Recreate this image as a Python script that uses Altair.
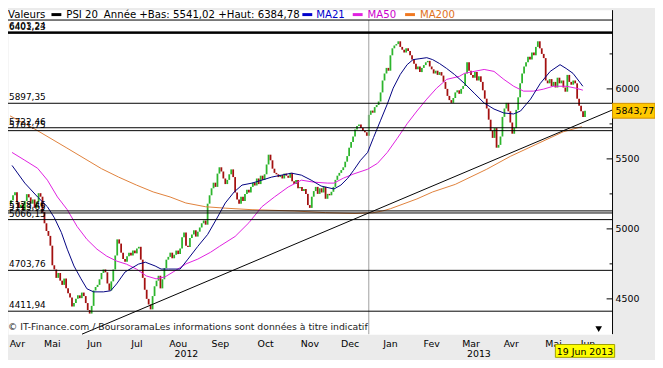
import altair as alt
import pandas as pd

# ---------------- data ----------------
first_index = -10          # trading-day index of first candle (0 = first day of May 2012)
first_open = 5180
closes = [
    5205, 5240, 5262, 5190, 5150, 5172, 5135, 5200, 5248, 5225,
    5180, 5210, 5150, 5195, 5255, 5230, 5120, 5040, 4985, 4950,
    4880, 4740, 4710, 4650, 4685, 4630, 4600, 4645, 4575, 4540,
    4510, 4445, 4470, 4500, 4525, 4505, 4545, 4520, 4470, 4420,
    4395, 4450, 4560, 4585, 4600, 4640, 4685, 4710, 4690, 4610,
    4560, 4625, 4710, 4810, 4925, 4895, 4830, 4785, 4765, 4805,
    4830, 4810, 4845, 4825, 4860, 4872, 4780, 4650, 4565, 4500,
    4460, 4425, 4520, 4590, 4630, 4665, 4575, 4640, 4720, 4780,
    4800, 4830, 4790, 4815, 4845, 4820, 4860, 4940, 4975, 4880,
    4870, 4935, 4960, 4990, 4945, 4980, 5010, 5040, 5060, 5030,
    5180, 5240, 5290, 5330, 5300, 5395, 5440, 5410, 5360, 5320,
    5350, 5390, 5425, 5370, 5260, 5210, 5180, 5230, 5200, 5250,
    5280, 5260, 5300, 5330, 5310, 5360, 5320, 5380, 5350, 5390,
    5460, 5530, 5490, 5430, 5400, 5390, 5370, 5385, 5360, 5395,
    5380, 5365, 5400, 5340, 5320, 5350, 5290, 5300, 5270, 5285,
    5250, 5170, 5150, 5230, 5270, 5300, 5250, 5290, 5260, 5300,
    5215, 5250, 5240, 5265, 5300, 5350, 5380, 5400, 5420, 5440,
    5480, 5520, 5580, 5620, 5660, 5710, 5735, 5745, 5720, 5700,
    5690, 5665, 5815, 5845, 5830, 5870, 5885, 5910, 5975, 6060,
    6110, 6150, 6130, 6240, 6290, 6310, 6320, 6340, 6300, 6280,
    6260, 6290, 6270, 6240, 6210, 6180, 6140, 6160, 6120, 6150,
    6170, 6190, 6200, 6160, 6140, 6110, 6130, 6100, 6120, 6095,
    6050, 6000, 5950, 5920, 5900, 5935, 5975, 5990, 5965, 6000,
    6020, 6110, 6190, 6130, 6100, 6080, 6120, 6060, 6090, 6050,
    5990, 5930, 5860, 5780, 5700, 5650, 5720, 5580, 5600, 5660,
    5800, 5860, 5900, 5840, 5760, 5680, 5720, 5850, 5940, 6040,
    6110, 6160, 6190, 6230, 6210, 6260, 6240, 6300, 6340, 6290,
    6250, 6220, 6060, 6040, 6070, 6020, 6050, 6010, 6080, 6040,
    6060, 6010, 5980, 6100, 6050, 6030, 6060, 6040, 5930, 5880, 5840, 5800, 5843.77,
]

ma21 = [[-9.5, 5453], [-3, 5327], [3.5, 5228], [8.5, 5158], [12, 5080], [15.6, 4974],
        [18.6, 4855], [22, 4735], [25.6, 4643], [28.6, 4572], [32, 4550], [37, 4550],
        [40.7, 4558], [43.7, 4607], [48, 4692], [54.8, 4748], [58.3, 4762], [63.3, 4735],
        [66.3, 4713], [70, 4713], [76, 4713], [80, 4784], [85, 4875], [90, 4960],
        [94.5, 5070], [99, 5185], [103.5, 5264], [107.5, 5313], [112.6, 5327], [117.6, 5348],
        [122.6, 5370], [127.6, 5384], [132.7, 5398], [137.7, 5384], [142.7, 5348], [147.7, 5306],
        [154.3, 5285], [157.8, 5313], [161.3, 5362], [164.3, 5419], [167.8, 5490], [171.4, 5546],
        [174.4, 5652], [177.9, 5772], [181.4, 5891], [184.4, 6005], [188, 6103], [191.5, 6173],
        [194.5, 6209], [198, 6216], [201.5, 6223], [204.5, 6209], [208, 6181], [211.6, 6146],
        [215.6, 6103], [220.6, 6040], [225.6, 5970], [230.7, 5899], [235.7, 5856], [240.7, 5828],
        [245.7, 5821], [249.2, 5842], [254.3, 5927], [259.3, 6040], [264.3, 6125], [269.3, 6173],
        [272.4, 6146], [275.9, 6111], [280.9, 6019]]

ma50 = [[-9.5, 5546], [-3, 5490], [3.5, 5433], [8.5, 5348], [13.6, 5228], [18.6, 5137],
        [23.6, 5017], [28.6, 4925], [33.7, 4855], [38.7, 4805], [43.7, 4770], [48.7, 4748],
        [53.8, 4713], [58.8, 4664], [63.8, 4643], [68.3, 4657], [73.4, 4700], [79, 4750],
        [85, 4784], [91.5, 4833], [96, 4875], [104, 4946], [111, 5044], [117.6, 5158],
        [124, 5228], [131, 5299], [137.7, 5348], [144, 5334], [151, 5327], [154.3, 5327],
        [159, 5362], [164, 5391], [171.4, 5426], [176.4, 5468], [181.4, 5546], [186.4, 5645],
        [191.5, 5751], [196.5, 5842], [201.5, 5927], [206.5, 6005], [211.6, 6068], [218, 6089],
        [220.6, 6111], [225.6, 6125], [230.7, 6139], [235.7, 6125], [240.7, 6068], [245.7, 6019],
        [250.7, 5984], [255.8, 5984], [260.8, 5998], [265.8, 6019], [272.4, 6019], [277.4, 6005],
        [280.9, 5991]]

ma200 = [[-10.5, 5807], [1, 5722], [18, 5581], [36, 5430], [44.7, 5370], [53.8, 5313],
         [62.3, 5264], [70.9, 5228], [78.9, 5185], [89, 5158], [99, 5148], [112.6, 5137],
         [134, 5128], [150, 5116], [165, 5110], [174, 5115], [179, 5128], [183, 5144],
         [196.5, 5214], [204.5, 5264], [216, 5318], [232, 5426], [244, 5518], [257, 5603],
         [271, 5694], [280.4, 5730]]

trend = [[26.1, 4248], [296, 5850]]

levels = [6403.24, 6401.23, 5897.35, 5722.46, 5701.75, 5128.46, 5113.65, 5066.15, 4703.76, 4411.94]

month_names = ["Avr", "Mai", "Jun", "Jul", "Aou", "Sep", "Oct", "Nov", "Dec",
               "Jan", "Fev", "Mar", "Avr", "Mai", "Jun"]
month_bounds = [-13.6, 0, 22, 43, 65, 85, 108, 131, 153, 172, 194, 214, 234, 255, 277, 290]
year_names = ["2012", "2013"]
year_bounds = [-13.6, 172, 284]

y_ticks_major = [4500, 5000, 5500, 6000]
y_ticks_minor = [4750, 5250, 5750, 6250]
last_date = "19 Jun 2013"

# ---------------- frames ----------------
idx = list(range(first_index, first_index + len(closes)))
opens = [first_open] + closes[:-1]
candles = pd.DataFrame({"i": idx, "o": opens, "c": closes})
candles["dir"] = ["up" if c >= o else "down" for o, c in zip(opens, closes)]

def pairs(p):
    return pd.DataFrame({"i": [a for a, b in p], "v": [b for a, b in p]})

lev_df = pd.DataFrame({"v": levels,
                       "lab": [f"{v:.2f}".replace(".", ",") for v in levels],
                       "w": [2 if v > 6400 else 1 for v in levels]})
months_df = pd.DataFrame({"name": month_names,
                          "mid": [(month_bounds[k] + month_bounds[k + 1]) / 2 for k in range(len(month_names))]})
years_df = pd.DataFrame({"name": year_names,
                         "mid": [(year_bounds[k] + year_bounds[k + 1]) / 2 for k in range(len(year_names))]})
last_df = pd.DataFrame({"i": [idx[-1]], "c": [closes[-1]],
                        "lab": [f"{closes[-1]:.2f}".replace(".", ",")], "d": [last_date]})
ylab_df = pd.DataFrame({"t": y_ticks_major, "lab": [str(t) for t in y_ticks_major]})

W, H = 612, 318
XS = alt.Scale(domain=[-11.56, 296], nice=False, zero=False, padding=0)
YS = alt.Scale(domain=[4248, 6492], nice=False, zero=False, padding=0)
FONT = "DejaVu Sans"
one = pd.DataFrame({"k": [0]})

GREEN, RED = "#2DB52D", "#A31010"
C21, C50, C200 = "#000080", "#E020E0", "#E0803A"

x_axis = alt.Axis(values=month_bounds[1:-1], labels=False, ticks=True, tickSize=3,
                  tickColor="black", domainColor="black", grid=True, gridColor="#E6E6E6",
                  title=None)
y_axis = alt.Axis(orient="right", values=[4500, 4750, 5000, 5250, 5500, 5750, 6000, 6250],
                  labels=False, ticks=False,
                  domainColor="black", grid=True, gridColor="#E6E6E6", title=None)

# ---------------- layers ----------------
layers = []

# candles (carry the axes)
layers.append(alt.Chart(candles).mark_bar(size=1.8).encode(
    x=alt.X("i:Q", scale=XS, axis=x_axis),
    y=alt.Y("o:Q", scale=YS, axis=y_axis),
    y2="c:Q",
    color=alt.Color("dir:N", scale=alt.Scale(domain=["up", "down"], range=[GREEN, RED]), legend=None),
))

# year separator
layers.append(alt.Chart(pd.DataFrame({"i": [year_bounds[1]]})).mark_rule(color="#A0A0A0").encode(
    x=alt.X("i:Q", scale=XS, axis=None)))

# moving averages
for data, col in [(ma200, C200), (ma50, C50), (ma21, C21)]:
    layers.append(alt.Chart(pairs(data)).mark_line(color=col, strokeWidth=1).encode(
        x=alt.X("i:Q", scale=XS, axis=None), y=alt.Y("v:Q", scale=YS, axis=None)))

# trend line
layers.append(alt.Chart(pairs(trend)).mark_line(color="black", strokeWidth=1).encode(
    x=alt.X("i:Q", scale=XS, axis=None), y=alt.Y("v:Q", scale=YS, axis=None)))

# horizontal levels
layers.append(alt.Chart(lev_df).mark_rule(color="black").encode(
    y=alt.Y("v:Q", scale=YS, axis=None), strokeWidth=alt.StrokeWidth("w:Q", scale=None)))
layers.append(alt.Chart(lev_df).mark_text(align="left", baseline="alphabetic", dy=-3,
                                          font=FONT, fontSize=9, color="black").encode(
    x=alt.value(1), y=alt.Y("v:Q", scale=YS, axis=None), text="lab:N"))

# right-axis tick marks (inward) and labels
layers.append(alt.Chart(pd.DataFrame({"t": y_ticks_major})).mark_rule(color="black").encode(
    y=alt.Y("t:Q", scale=YS, axis=None), x=alt.value(606), x2=alt.value(612)))
layers.append(alt.Chart(pd.DataFrame({"t": y_ticks_minor})).mark_rule(color="black").encode(
    y=alt.Y("t:Q", scale=YS, axis=None), x=alt.value(609), x2=alt.value(612)))
layers.append(alt.Chart(ylab_df).mark_text(align="left", baseline="middle", font=FONT,
                                           fontSize=9.5, color="black").encode(
    x=alt.value(615), y=alt.Y("t:Q", scale=YS, axis=None), text="lab:N"))

# frame: top strip, top line, right line
layers.append(alt.Chart(one).mark_rect(color="white").encode(
    x=alt.value(0), x2=alt.value(612), y=alt.value(-10), y2=alt.value(0)))
layers.append(alt.Chart(one).mark_rule(color="black").encode(
    x=alt.value(0), x2=alt.value(612), y=alt.value(0)))
layers.append(alt.Chart(one).mark_rule(color="black").encode(
    x=alt.value(612), y=alt.value(-10), y2=alt.value(318)))

# month and year labels
layers.append(alt.Chart(months_df).mark_text(font=FONT, fontSize=9.5, color="black",
                                             baseline="alphabetic").encode(
    x=alt.X("mid:Q", scale=XS, axis=None), y=alt.value(331.5), text="name:N"))
layers.append(alt.Chart(years_df).mark_text(font=FONT, fontSize=9.5, color="black",
                                            baseline="alphabetic").encode(
    x=alt.X("mid:Q", scale=XS, axis=None), y=alt.value(341.5), text="name:N"))

# copyright
layers.append(alt.Chart(one).mark_text(
    text="© IT-Finance.com / BoursoramaLes informations sont données à titre indicatif",
    align="left", baseline="alphabetic", font=FONT, fontSize=9.4, color="#222222").encode(
    x=alt.value(0), y=alt.value(314)))

# small triangle
layers.append(alt.Chart(one).mark_point(shape="triangle-down", filled=True, color="black",
                                        size=45, opacity=1).encode(
    x=alt.value(598), y=alt.value(313)))

# last value box
layers.append(alt.Chart(last_df).mark_rect(fill="#FFC800", stroke="#D09000", strokeWidth=1,
                                           yOffset=-7.5, y2Offset=7.5).encode(
    x=alt.value(612), x2=alt.value(655),
    y=alt.Y("c:Q", scale=YS, axis=None), y2="c:Q"))
layers.append(alt.Chart(last_df).mark_text(align="left", baseline="middle", font=FONT,
                                           fontSize=9.5, color="black").encode(
    x=alt.value(615), y=alt.Y("c:Q", scale=YS, axis=None), text="lab:N"))

# date box
layers.append(alt.Chart(last_df).mark_rect(fill="#FFFF00", stroke="#A0A000", strokeWidth=1,
                                           xOffset=-30, x2Offset=30).encode(
    x=alt.X("i:Q", scale=XS, axis=None), x2="i:Q", y=alt.value(328.5), y2=alt.value(341.5)))
layers.append(alt.Chart(last_df).mark_text(baseline="alphabetic", font=FONT, fontSize=9.5,
                                           color="black").encode(
    x=alt.X("i:Q", scale=XS, axis=None), y=alt.value(339), text="d:N"))

# legend row
def txt(s, x, color="black"):
    return alt.Chart(one).mark_text(text=s, align="left", baseline="alphabetic", font=FONT,
                                    fontSize=10.3, color=color).encode(x=alt.value(x), y=alt.value(-2))

def swatch(x, color):
    return alt.Chart(one).mark_rect(color=color).encode(
        x=alt.value(x), x2=alt.value(x + 10), y=alt.value(-7), y2=alt.value(-4))

layers += [
    txt("Valeurs", 0),
    swatch(44, "black"), txt("PSI 20", 59),
    txt("Année +Bas: 5541,02 +Haut: 6384,78", 97),
    swatch(298, "#0000CC"), txt("MA21", 312, "#0000CC"),
    swatch(349, "#E020E0"), txt("MA50", 364, "#CC00CC"),
    swatch(402, "#F07820"), txt("MA200", 417, "#E07020"),
]

chart = alt.layer(*layers).properties(
    width=W, height=H,
    autosize=alt.AutoSizeParams(type="none"),
    padding={"left": 0, "top": 10, "right": 43, "bottom": 24},
    background="#EBEBEB",
).configure_view(fill="white", stroke="transparent")

chart.save("out.html", embed_options={"renderer": "svg", "actions": False})
